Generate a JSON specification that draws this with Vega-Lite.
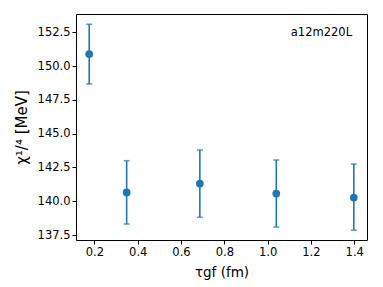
{
  "$schema": "https://vega.github.io/schema/vega-lite/v6.json",
  "autosize": "none",
  "width": 291,
  "height": 226,
  "padding": {"left": 76, "top": 14, "right": 16, "bottom": 47},
  "background": "white",
  "config": {
    "font": "DejaVu Sans",
    "view": {"stroke": "black", "strokeWidth": 1},
    "axis": {
      "grid": false,
      "domain": false,
      "tickColor": "black",
      "tickSize": 4,
      "labelColor": "black",
      "labelFontSize": 11.5,
      "labelOverlap": false,
      "labelFont": "DejaVu Sans",
      "titleFont": "DejaVu Sans",
      "titleColor": "black",
      "titleFontWeight": "normal"
    }
  },
  "data": {
    "values": [
      {"tau": 0.176, "chi": 150.89, "lo": 148.68, "hi": 153.10},
      {"tau": 0.349, "chi": 140.65, "lo": 138.31, "hi": 143.00},
      {"tau": 0.687, "chi": 141.31, "lo": 138.81, "hi": 143.79},
      {"tau": 1.040, "chi": 140.57, "lo": 138.09, "hi": 143.05},
      {"tau": 1.398, "chi": 140.27, "lo": 137.85, "hi": 142.75}
    ]
  },
  "layer": [
    {
      "mark": {"type": "rule", "color": "#1f77b4", "strokeWidth": 1.6},
      "encoding": {
        "x": {"field": "tau", "type": "quantitative",
              "scale": {"domain": [0.115, 1.459], "nice": false, "zero": false},
              "axis": {"values": [0.2, 0.4, 0.6, 0.8, 1.0, 1.2, 1.4], "tickCount": 20, "format": ".1f", "title": "τgf (fm)", "titleFontSize": 13.5, "titlePadding": 8}},
        "y": {"field": "lo", "type": "quantitative",
              "scale": {"domain": [137.13, 153.86], "nice": false, "zero": false},
              "axis": {"values": [137.5, 140, 142.5, 145, 147.5, 150, 152.5], "tickCount": 20, "format": ".1f", "title": "χ¹/⁴ [MeV]", "titleFontSize": 15, "titlePadding": 8}},
        "y2": {"field": "hi"}
      }
    },
    {
      "mark": {"type": "tick", "orient": "horizontal", "color": "#1f77b4", "size": 6, "thickness": 1.6},
      "encoding": {
        "x": {"field": "tau", "type": "quantitative"},
        "y": {"field": "lo", "type": "quantitative"}
      }
    },
    {
      "mark": {"type": "tick", "orient": "horizontal", "color": "#1f77b4", "size": 6, "thickness": 1.6},
      "encoding": {
        "x": {"field": "tau", "type": "quantitative"},
        "y": {"field": "hi", "type": "quantitative"}
      }
    },
    {
      "mark": {"type": "point", "filled": true, "opacity": 1, "color": "#1f77b4", "size": 60},
      "encoding": {
        "x": {"field": "tau", "type": "quantitative"},
        "y": {"field": "chi", "type": "quantitative"}
      }
    },
    {
      "data": {"values": [{"label": "a12m220L"}]},
      "mark": {"type": "text", "align": "right", "baseline": "middle", "fontSize": 11.5, "fontWeight": "normal", "fill": "black", "font": "DejaVu Sans"},
      "encoding": {
        "x": {"datum": 1.39},
        "y": {"datum": 152.45},
        "text": {"field": "label"}
      }
    }
  ]
}
